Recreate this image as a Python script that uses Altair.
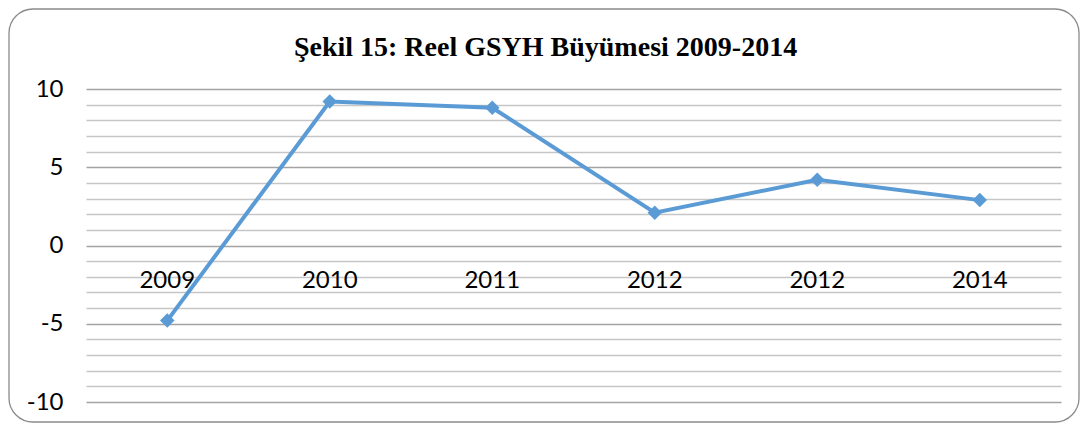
import altair as alt
import pandas as pd

title_text = "Şekil 15: Reel GSYH Büyümesi 2009-2014"
labels = ["2009", "2010", "2011", "2012", "2012", "2014"]
values = [-4.8, 9.2, 8.8, 2.1, 4.2, 2.9]
order = list(range(len(labels)))
y_ticks = list(range(-10, 11))

df = pd.DataFrame({"idx": order, "label": labels, "value": values, "zero": [0] * len(labels)})

W, H = 975, 313

x = alt.X("idx:O", axis=None, scale=alt.Scale(type="point", padding=0.5))
yscale = alt.Scale(domain=[-10, 10], nice=False, zero=False)
yaxis = alt.Axis(
    values=y_ticks,
    grid=True,
    gridColor={"condition": {"test": "datum.value % 5 === 0", "value": "#a3a3a3"}, "value": "#c6c6c6"},
    gridWidth=1.5,
    ticks=False,
    domain=False,
    labelOverlap=False,
    labelExpr="datum.value % 5 === 0 ? datum.value : ''",
    labelFont="Lato",
    labelFontSize=24,
    labelColor="#000000",
    labelPadding=23,
)

base = alt.Chart(df)

line = base.mark_line(color="#5B9BD5", strokeWidth=4).encode(
    x=x, y=alt.Y("value:Q", scale=yscale, title=None, axis=yaxis)
)

points = base.mark_point(shape="diamond", filled=True, size=210, color="#5B9BD5", opacity=1).encode(
    x=x, y=alt.Y("value:Q", scale=yscale, title=None, axis=yaxis)
)

xlabels = base.mark_text(font="Lato", fontSize=24, color="#000000", dy=35).encode(
    x=x, y=alt.Y("zero:Q", scale=yscale, title=None, axis=yaxis), text="label:N"
)

border = alt.Chart(pd.DataFrame({"a": [0]})).mark_rect(
    fill=None, stroke="#8a8a8a", strokeWidth=1.3, cornerRadius=24
).encode(
    x=alt.value(-77), x2=alt.value(W + 18), y=alt.value(-80), y2=alt.value(H + 20)
)

title = alt.Chart(pd.DataFrame({"t": [title_text]})).mark_text(
    font="Liberation Serif", fontSize=28, fontWeight="bold", color="#000000",
    align="center", baseline="alphabetic"
).encode(x=alt.value(W / 2 - 28), y=alt.value(-33), text="t:N")

chart = alt.layer(line, points, xlabels, border, title).properties(
    width=W,
    height=H,
    padding={"left": 78, "top": 81, "right": 19, "bottom": 22},
    autosize=alt.AutoSizeParams(type="none"),
).configure_view(stroke=None)

chart.save("out.html", embed_options={"renderer": "svg", "actions": False})
